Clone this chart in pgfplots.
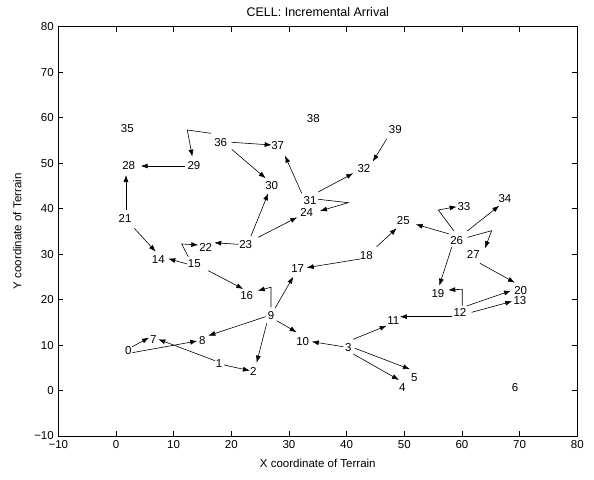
\documentclass[border=0pt]{standalone}
\usepackage{fontspec}
\setmainfont{Liberation Sans}
\usepackage{pgfplots}
\pgfplotsset{compat=1.18}
\usetikzlibrary{arrows.meta}
\begin{document}
\begin{tikzpicture}
\path[use as bounding box] (-58.3pt,-43pt) rectangle (535.7pt,436pt);
\begin{axis}[
  at={(0pt,0pt)}, anchor=south west,
  scale only axis, width=519pt, height=409.3pt,
  xmin=-10, xmax=80, ymin=-10, ymax=80,
  xtick={-10,0,...,80}, ytick={-10,0,...,80},
  xticklabels={−10,0,10,20,30,40,50,60,70,80},
  yticklabels={−10,0,10,20,30,40,50,60,70,80},
  tick align=inside, major tick length=5pt,
  tick style={black, line width=0.5pt},
  axis line style={black, line width=0.7pt},
  ticklabel style={font=\fontsize{11.5}{13}\selectfont},
  xticklabel style={yshift=-1pt},
  yticklabel style={xshift=-1pt},
  every axis title shift=0pt,
  title={CELL: Incremental Arrival},
  title style={at={(axis description cs:0.5,1)}, anchor=center, yshift=14.7pt, font=\fontsize{12.5}{14}\selectfont},
  xlabel={X coordinate of Terrain},
  xlabel style={at={(axis description cs:0.5,0)}, anchor=center, yshift=-27pt, font=\fontsize{11.5}{13}\selectfont},
  ylabel={Y coordinate of Terrain},
  ylabel style={at={(axis description cs:0,0.5)}, anchor=center, yshift=41pt, font=\fontsize{11.5}{13}\selectfont},
  every axis plot/.append style={black, line width=0.6pt},
]
% node labels
\addplot[only marks, mark=*, mark options={draw=none, fill=none}, mark size=0pt,
  nodes near coords, point meta=explicit symbolic,
  every node near coord/.append style={anchor=center, inner sep=0pt, font=\fontsize{11.5}{13}\selectfont, text=black}]
table[meta=label] {
x y label
2.14 8.69 0
17.87 5.83 1
23.81 4.08 2
40.29 9.51 3
49.65 0.71 4
51.73 2.76 5
69.19 0.71 6
6.47 11.11 7
14.97 10.89 8
26.88 16.50 9
32.38 10.67 10
48.09 15.29 11
59.65 17.05 12
70.06 19.69 13
7.34 28.86 14
13.58 27.98 15
22.67 20.90 16
31.51 26.79 17
43.41 29.65 18
55.84 21.29 19
70.18 21.89 20
1.57 37.72 21
15.56 31.41 22
22.50 32.00 23
33.07 39.19 24
49.82 37.28 25
59.08 32.88 26
61.96 30.02 27
2.21 49.37 28
13.53 49.37 29
27.00 44.97 30
33.65 41.79 31
43.01 48.71 32
60.35 40.36 33
67.46 42.18 34
1.96 57.66 35
18.16 54.58 36
28.04 53.77 37
34.22 59.71 38
48.44 57.29 39
};
% arrows
\pgfplotsset{arr/.style={-{Latex[length=7pt,width=5pt]}}}
\addplot[arr] coordinates {(16.48,56.56) (12.37,57.29) (13.24,51.42)};
\addplot[arr] coordinates {(20.07,54.58) (27.00,53.99)};
\addplot[arr] coordinates {(20.07,53.04) (25.96,46.67)};
\addplot[arr] coordinates {(11.97,49.37) (4.29,49.37)};
\addplot[arr] coordinates {(1.74,39.70) (1.74,47.39)};
\addplot[arr] coordinates {(3.18,35.67) (6.89,30.53)};
\addplot[arr] coordinates {(12.37,27.82) (9.07,28.99)};
\addplot[arr] coordinates {(12.54,29.43) (11.40,32.22) (14.28,32.00)};
\addplot[arr] coordinates {(16.01,26.35) (22.08,22.33)};
\addplot[arr] coordinates {(21.21,32.15) (17.05,32.51)};
\addplot[arr] coordinates {(23.41,33.98) (26.41,43.37)};
\addplot[arr] coordinates {(24.68,33.69) (31.44,38.09)};
\addplot[arr] coordinates {(32.21,43.37) (29.31,51.64)};
\addplot[arr] coordinates {(35.08,42.05) (40.29,41.30) (35.38,39.48)};
\addplot[arr] coordinates {(35.08,43.65) (41.15,47.77)};
\addplot[arr] coordinates {(26.88,18.30) (26.88,22.70) (24.58,21.95)};
\addplot[arr] coordinates {(27.58,18.08) (30.75,25.03)};
\addplot[arr] coordinates {(42.31,28.92) (33.07,27.01)};
\addplot[arr] coordinates {(45.21,31.63) (48.68,35.67)};
\addplot[arr] coordinates {(46.95,55.31) (44.52,50.32)};
\addplot[arr] coordinates {(57.80,34.42) (51.97,36.55)};
\addplot[arr] coordinates {(58.61,35.08) (55.89,39.70) (59.08,40.42)};
\addplot[arr] coordinates {(60.92,35.08) (66.47,40.64)};
\addplot[arr] coordinates {(60.99,33.69) (65.15,35.15) (63.99,31.27)};
\addplot[arr] coordinates {(58.22,31.50) (56.07,23.05)};
\addplot[arr] coordinates {(63.12,27.98) (69.19,23.71)};
\addplot[arr] coordinates {(60.05,18.65) (60.05,22.26) (57.63,22.11)};
\addplot[arr] coordinates {(60.82,18.59) (68.50,21.95)};
\addplot[arr] coordinates {(61.68,17.20) (68.72,19.62)};
\addplot[arr] coordinates {(58.22,16.24) (49.25,16.24)};
\addplot[arr] coordinates {(41.15,11.27) (46.95,14.26)};
\addplot[arr] coordinates {(39.42,9.64) (33.94,10.74)};
\addplot[arr] coordinates {(41.45,9.29) (50.99,4.67)};
\addplot[arr] coordinates {(41.15,8.03) (49.08,2.32)};
\addplot[arr] coordinates {(27.87,15.36) (31.34,12.81)};
\addplot[arr] coordinates {(25.96,16.24) (16.01,12.06)};
\addplot[arr] coordinates {(26.14,14.78) (24.40,6.12)};
\addplot[arr] coordinates {(18.73,5.62) (23.24,4.36)};
\addplot[arr] coordinates {(17.17,6.56) (7.34,11.27)};
\addplot[arr] coordinates {(2.83,9.64) (5.73,11.62)};
\addplot[arr] coordinates {(2.83,8.32) (14.10,10.89)};
\end{axis}
\end{tikzpicture}
\end{document}
